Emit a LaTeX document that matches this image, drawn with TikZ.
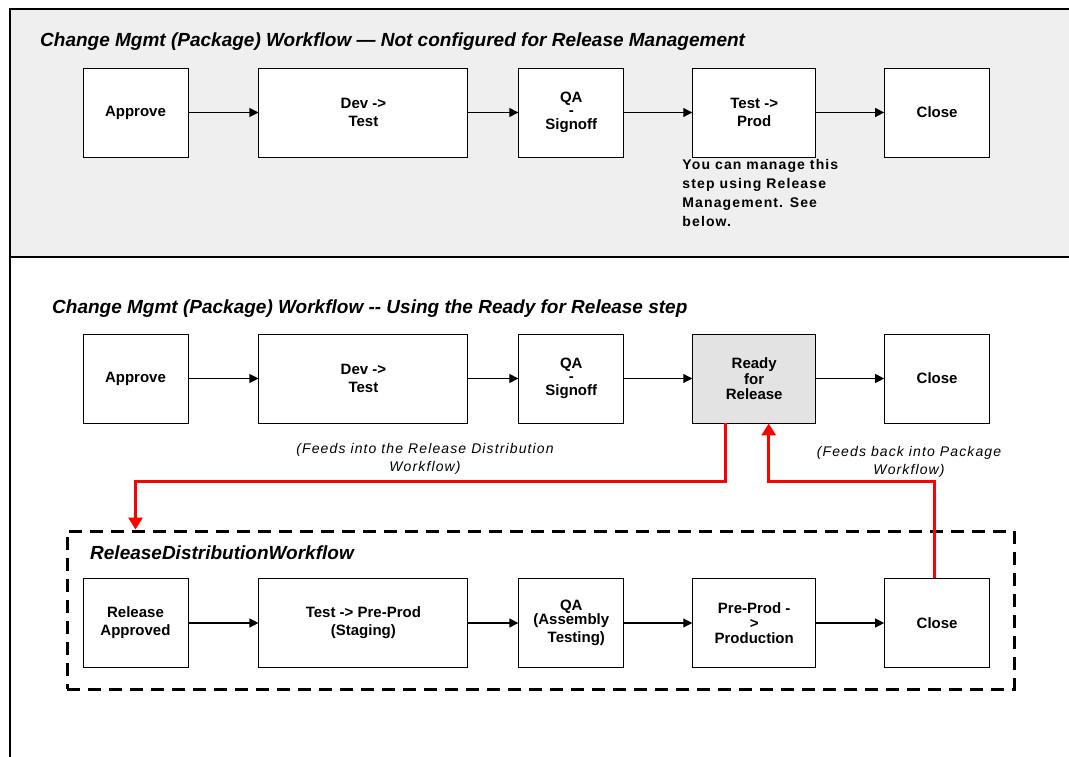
\documentclass[tikz,border=0pt]{standalone}
\usepackage{fontspec}
\setmainfont{Liberation Sans}
\newfontfamily\notefont{Liberation Sans}[LetterSpace=8]
\usepackage{tikz}
\usetikzlibrary{arrows.meta, positioning, fit, calc}
\definecolor{panelgray}{HTML}{EFEFEF}
\definecolor{readygray}{HTML}{E3E3E3}
\definecolor{feedred}{HTML}{FF0000}

\begin{document}
\begin{tikzpicture}[
        x=1pt, y=-1pt,
        node distance=70pt,
        every node/.style={font=\fontsize{15}{18}\selectfont\bfseries},
        stepbox/.style={rectangle, draw=black, line width=0.9pt, fill=white,
                        minimum height=89pt, align=center, inner sep=2pt},
        titletext/.style={anchor=west, inner sep=0pt,
                          font=\fontsize{19}{22}\selectfont\bfseries\itshape},
        notetext/.style={align=left, inner sep=0pt,
                         font=\notefont\fontsize{14}{19}\selectfont\bfseries},
        feedtext/.style={align=center, inner sep=0pt,
                         font=\notefont\fontsize{14}{18}\selectfont\itshape},
        groupbox/.style={draw=black, line width=3pt, dash pattern=on 13pt off 8pt,
                         inner sep=0pt},
        panelline/.style={draw=black, line width=1.2pt},
        flow/.style={-{Triangle[length=9pt, width=9pt]}, line width=1.1pt},
        feedline/.style={-{Triangle[length=12pt, width=14pt]}, line width=3pt,
                         color=feedred}
    ]
        \useasboundingbox (0,0) rectangle (1069,757);

        % panels
        \fill[panelgray] (10,9) rectangle (1069,257);
        \draw[panelline] (1069,9) -- (10,9) -- (10,757);
        \draw[panelline] (10,257) -- (1069,257);

        % not configured for release management
        \node[titletext] (title1) at (40,42)
            {Change Mgmt (Package) Workflow — Not configured for Release Management};
        \node[stepbox, minimum width=105pt] (approve1) at (135.5,112.5) {Approve};
        \node[stepbox, minimum width=209pt, right=70pt of approve1] (dev1) {Dev ->\\Test};
        \node[stepbox, minimum width=105pt, right=50pt of dev1] (qa1) {QA\\[-5pt]-\\[-4pt]Signoff};
        \node[stepbox, minimum width=123pt, right=68pt of qa1] (prod1) {Test ->\\Prod};
        \node[stepbox, minimum width=105pt, right=68pt of prod1] (close1) {Close};
        \node[notetext, anchor=north west] (manage) at ([xshift=-10pt, yshift=-2pt]prod1.south west)
            {You can manage this\\step using Release\\Management.  See\\below.};

        \draw[flow] (approve1) -- (dev1);
        \draw[flow] (dev1) -- (qa1);
        \draw[flow] (qa1) -- (prod1);
        \draw[flow] (prod1) -- (close1);

        % using the ready for release step
        \node[titletext] (title2) at (52,309)
            {Change Mgmt (Package) Workflow -{}- Using the Ready for Release step};
        \node[stepbox, minimum width=105pt] (approve2) at (135.5,378.5) {Approve};
        \node[stepbox, minimum width=209pt, right=70pt of approve2] (dev2) {Dev ->\\Test};
        \node[stepbox, minimum width=105pt, right=50pt of dev2] (qa2) {QA\\[-5pt]-\\[-4pt]Signoff};
        \node[stepbox, minimum width=123pt, fill=readygray, right=68pt of qa2] (ready2)
            {Ready\\[-2pt]for\\[-3pt]Release};
        \node[stepbox, minimum width=105pt, right=68pt of ready2] (close2) {Close};

        \draw[flow] (approve2) -- (dev2);
        \draw[flow] (dev2) -- (qa2);
        \draw[flow] (qa2) -- (ready2);
        \draw[flow] (ready2) -- (close2);

        \node[feedtext] (feedsinto) at (425,459)
            {(Feeds into the Release Distribution\\Workflow)};
        \node[feedtext] (feedsback) at (909,462)
            {(Feeds back into Package\\Workflow)};

        % release distribution workflow
        \node[groupbox, fit={(67,531) (1014,689)}] (relgroup) {};
        \node[titletext] (reltitle) at (90,553) {ReleaseDistributionWorkflow};
        \node[stepbox, minimum width=105pt] (relapp) at (135.5,623) {Release\\Approved};
        \node[stepbox, minimum width=209pt, right=70pt of relapp] (staging) {Test -> Pre-Prod\\(Staging)};
        \node[stepbox, minimum width=105pt, right=50pt of staging] (assembly)
            {QA\\[-4pt](Assembly\\\hspace*{10pt}Testing)};
        \node[stepbox, minimum width=123pt, right=68pt of assembly] (production)
            {Pre-Prod -\\[-3pt]>\\[-3pt]Production};
        \node[stepbox, minimum width=105pt, right=68pt of production] (relclose) {Close};

        \draw[flow] (relapp) -- (staging);
        \draw[flow] (staging) -- (assembly);
        \draw[flow] (assembly) -- (production);
        \draw[flow] (production) -- (relclose);

        % red feed lines
        \coordinate (feedlevel) at (0,481);
        \coordinate (readyout) at ([xshift=-28.5pt]ready2.south);
        \coordinate (readyin) at ([xshift=14.5pt]ready2.south);
        \draw[feedline] (readyout) -- (readyout |- feedlevel) -| (relapp.north |- relgroup.north);
        \draw[feedline] ([xshift=-3pt]relclose.north) |- (readyin |- feedlevel) -- (readyin);
\end{tikzpicture}
\end{document}
